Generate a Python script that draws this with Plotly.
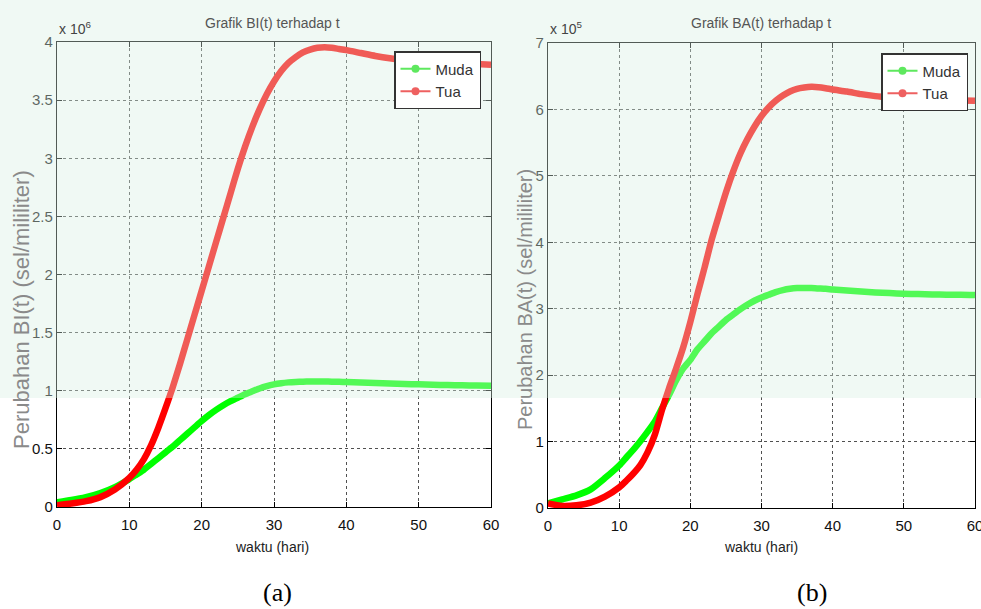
import plotly.graph_objects as go

# ---------------- data ----------------
t = [0, 2, 4, 6, 8, 10, 11, 12, 13, 14, 15, 16, 17, 18, 19, 20, 21, 22, 23, 24, 25,
     26, 27, 28, 29, 30, 31, 32, 33, 34, 35, 36, 37, 38, 39, 40, 42, 44, 46, 48, 50,
     52, 54, 56, 58, 60]

# BI(t) in units of 1e6 sel/mililiter
bi_muda = [0.04, 0.06, 0.085, 0.12, 0.17, 0.24, 0.28, 0.32, 0.37, 0.42, 0.47, 0.52, 0.575,
           0.63, 0.685, 0.74, 0.79, 0.835, 0.875, 0.91, 0.94, 0.97, 0.995, 1.02, 1.04, 1.055,
           1.065, 1.072, 1.076, 1.078, 1.079, 1.079, 1.079, 1.078, 1.077, 1.075, 1.071, 1.067,
           1.063, 1.059, 1.055, 1.052, 1.049, 1.047, 1.045, 1.043]
bi_tua = [0.015, 0.03, 0.05, 0.085, 0.15, 0.25, 0.32, 0.41, 0.53, 0.68, 0.85, 1.03, 1.23,
          1.44, 1.65, 1.86, 2.07, 2.28, 2.49, 2.70, 2.91, 3.10, 3.27, 3.42, 3.55, 3.66, 3.75,
          3.82, 3.87, 3.91, 3.935, 3.95, 3.955, 3.95, 3.94, 3.93, 3.905, 3.88, 3.86, 3.845,
          3.835, 3.825, 3.82, 3.815, 3.81, 3.805]

# BA(t) in units of 1e5 sel/mililiter
ba_muda = [0.07, 0.13, 0.19, 0.28, 0.45, 0.64, 0.76, 0.88, 1.01, 1.15, 1.30, 1.50, 1.70,
           1.92, 2.10, 2.23, 2.39, 2.51, 2.63, 2.73, 2.83, 2.91, 2.99, 3.06, 3.12, 3.17, 3.21,
           3.25, 3.28, 3.30, 3.31, 3.31, 3.31, 3.305, 3.30, 3.29, 3.275, 3.26, 3.245, 3.235,
           3.225, 3.22, 3.215, 3.21, 3.21, 3.205]
ba_tua = [0.07, 0.03, 0.04, 0.08, 0.17, 0.31, 0.41, 0.52, 0.65, 0.84, 1.10, 1.47, 1.80,
          2.10, 2.42, 2.80, 3.22, 3.62, 4.04, 4.40, 4.75, 5.06, 5.33, 5.55, 5.74, 5.90, 6.03,
          6.13, 6.21, 6.27, 6.31, 6.33, 6.34, 6.335, 6.32, 6.30, 6.27, 6.23, 6.20, 6.18, 6.165,
          6.155, 6.145, 6.14, 6.135, 6.13]

series_names = ["Muda", "Tua"]
x_ticks = [0, 10, 20, 30, 40, 50, 60]
bi_ticks = [0, 0.5, 1, 1.5, 2, 2.5, 3, 3.5, 4]
bi_ticktext = ["0", "0.5", "1", "1.5", "2", "2.5", "3", "3.5", "4"]
ba_ticks = [0, 1, 2, 3, 4, 5, 6, 7]

# ---------------- styling ----------------
W, H = 981, 609
FONT = "Liberation Sans, Arial, sans-serif"
GREEN = "#00ff00"
RED = "#ff0000"


def px(x):
    return x / W


def py(y):
    return 1 - y / H


fig = go.Figure()

panels = [
    ("x", "y", bi_muda, bi_tua, "legend"),
    ("x2", "y2", ba_muda, ba_tua, "legend2"),
]
for xa, ya, muda, tua, leg in panels:
    fig.add_trace(go.Scatter(x=t, y=muda, xaxis=xa, yaxis=ya, mode="lines",
                             line=dict(color=GREEN, width=6.5, shape="spline", smoothing=0.6),
                             showlegend=False, hoverinfo="skip"))
    fig.add_trace(go.Scatter(x=t, y=tua, xaxis=xa, yaxis=ya, mode="lines",
                             line=dict(color=RED, width=6.5, shape="spline", smoothing=0.6),
                             showlegend=False, hoverinfo="skip"))
    # legend entries (line with dot marker, as in MATLAB)
    for name, col in zip(series_names, ["#5ee85e", "#ee6060"]):
        fig.add_trace(go.Scatter(x=[None], y=[None], xaxis=xa, yaxis=ya, name=name,
                                 mode="lines+markers", legend=leg,
                                 line=dict(color=col, width=2),
                                 marker=dict(color=col, size=8)))

axis_common = dict(showline=True, linecolor="black", linewidth=1.2, mirror="ticks",
                   ticks="inside", ticklen=5, tickcolor="black", showgrid=True,
                   gridcolor="#505050", griddash="dot", gridwidth=1, zeroline=False,
                   tickfont=dict(family=FONT, size=15, color="#111"), automargin=False,
                   ticklabeloverflow="allow")

fig.update_layout(
    width=W, height=H,
    margin=dict(l=0, r=0, t=0, b=0),
    paper_bgcolor="white", plot_bgcolor="white",
    xaxis=dict(domain=[px(57), px(491)], range=[0, 60], tickvals=x_ticks, anchor="y",
               ticklabelstandoff=4, **axis_common),
    yaxis=dict(domain=[py(507), py(42)], range=[0, 4], tickvals=bi_ticks,
               ticktext=bi_ticktext, anchor="x", **axis_common),
    xaxis2=dict(domain=[px(548), px(975)], range=[0, 60], tickvals=x_ticks, anchor="y2",
                ticklabelstandoff=4, **axis_common),
    yaxis2=dict(domain=[py(508), py(43)], range=[0, 7], tickvals=ba_ticks, anchor="x2",
                **axis_common),
    legend=dict(x=px(394), y=py(51), xanchor="left", yanchor="top",
                bgcolor="white", bordercolor="#333", borderwidth=1.5,
                font=dict(family=FONT, size=15, color="#333"), tracegroupgap=0),
    legend2=dict(x=px(881), y=py(53), xanchor="left", yanchor="top",
                 bgcolor="white", bordercolor="#333", borderwidth=1.5,
                 font=dict(family=FONT, size=15, color="#333"), tracegroupgap=0),
    showlegend=True,
)

# watermark tint over the upper part of the page
fig.add_shape(type="rect", xref="paper", yref="paper", x0=0, x1=1, y0=py(398), y1=1,
              fillcolor="rgba(215,240,225,0.38)", line=dict(width=0), layer="above")

ann = []
# titles
ann.append(dict(text="Grafik BI(t) terhadap t", x=px(272), y=py(23), font=dict(size=14, color="#555")))
ann.append(dict(text="Grafik BA(t) terhadap t", x=px(761), y=py(23), font=dict(size=14, color="#555")))
# x axis titles
ann.append(dict(text="waktu (hari)", x=px(272), y=py(547), font=dict(size=14, color="#222")))
ann.append(dict(text="waktu (hari)", x=px(761), y=py(547), font=dict(size=14, color="#222")))
# y axis titles
ann.append(dict(text="Perubahan BI(t) (sel/mililiter)", x=px(21), y=py(310), textangle=-90,
                font=dict(size=22, color="#8a8a8a")))
ann.append(dict(text="Perubahan BA(t) (sel/mililiter)", x=px(525), y=py(300), textangle=-90,
                font=dict(size=20, color="#8a8a8a")))
# exponent labels
ann.append(dict(text="x 10<sup>6</sup>", x=px(57), y=py(28), xanchor="left",
                font=dict(size=14, color="#444")))
ann.append(dict(text="x 10<sup>5</sup>", x=px(548), y=py(28), xanchor="left",
                font=dict(size=14, color="#444")))
# panel labels
ann.append(dict(text="(a)", x=px(277), y=py(592),
                font=dict(size=26, color="black", family="Liberation Serif, Times New Roman, serif")))
ann.append(dict(text="(b)", x=px(812), y=py(592),
                font=dict(size=26, color="black", family="Liberation Serif, Times New Roman, serif")))

for a in ann:
    a.setdefault("xanchor", "center")
    a.setdefault("yanchor", "middle")
    a["xref"] = "paper"
    a["yref"] = "paper"
    a["showarrow"] = False
    f = a["font"]
    f.setdefault("family", FONT)
    fig.add_annotation(**a)

fig.write_html("out.html")
